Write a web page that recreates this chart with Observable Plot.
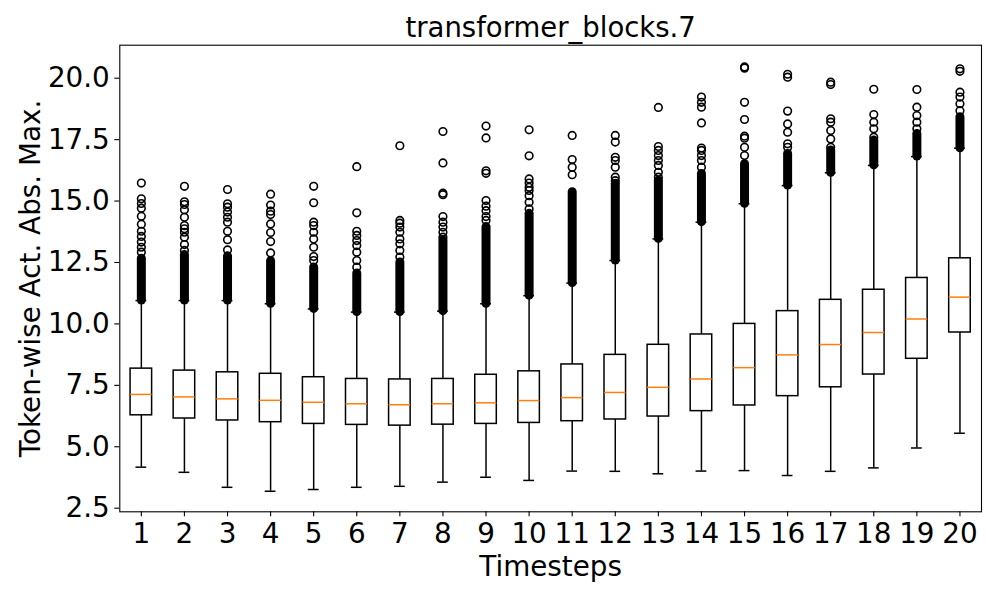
<!DOCTYPE html>
<html><head><meta charset="utf-8">
<script src="https://cdn.jsdelivr.net/npm/d3@7"></script>
<script src="https://cdn.jsdelivr.net/npm/@observablehq/plot@0.6"></script>
<style>body{margin:0;background:#fff}</style>
</head><body><div id="chart"></div>
<script>
const titleText = "transformer_blocks.7";
const xLabel = "Timesteps";
const yLabel = "Token-wise Act. Abs. Max.";
const steps = [1,2,3,4,5,6,7,8,9,10,11,12,13,14,15,16,17,18,19,20];
const yTicks = [2.5, 5.0, 7.5, 10.0, 12.5, 15.0, 17.5, 20.0];
const q1  = [6.28,6.15,6.07,6.00,5.93,5.89,5.86,5.90,5.93,5.97,6.04,6.11,6.23,6.45,6.68,7.06,7.42,7.94,8.58,9.65];
const med = [7.13,7.03,6.95,6.89,6.81,6.75,6.71,6.75,6.79,6.88,7.00,7.21,7.42,7.76,8.22,8.74,9.16,9.65,10.20,11.09];
const q3  = [8.18,8.10,8.03,7.97,7.83,7.76,7.74,7.76,7.93,8.07,8.35,8.74,9.15,9.57,10.00,10.52,10.98,11.39,11.87,12.67];
const whiskLo = [4.17,3.96,3.35,3.19,3.26,3.35,3.39,3.56,3.76,3.63,4.01,4.00,3.90,4.01,4.03,3.83,4.00,4.14,4.95,5.55];
const whiskHi = [10.95,10.95,10.95,10.82,10.61,10.48,10.48,10.52,10.82,11.15,11.66,12.58,13.46,14.14,14.89,15.63,16.15,16.45,16.81,17.15];
const denseTop = [12.65,12.80,12.75,12.55,12.30,12.05,12.50,13.40,13.94,14.48,15.36,15.70,15.83,16.10,16.50,16.92,17.06,17.46,17.73,18.41];
const outliers = [
  [15.73,15.09,14.90,14.71,14.38,14.06,13.77,13.56,13.33,13.12,12.92],
  [15.60,14.97,14.86,14.65,14.34,14.00,13.87,13.73,13.53,13.23,12.99],
  [15.47,14.89,14.75,14.55,14.34,14.14,13.77,13.43,13.01],
  [15.28,14.84,14.59,14.45,14.07,13.72,13.35,12.89],
  [15.60,14.93,14.14,14.00,13.73,13.46,13.12,12.74,12.58],
  [16.40,14.52,13.77,13.60,13.39,13.19,12.92,12.58,12.31],
  [17.25,14.21,14.10,13.94,13.73,13.46,13.26,12.99,12.72],
  [17.83,16.55,15.32,15.26,14.37,14.14,13.94,13.73,13.53],
  [18.05,17.57,16.23,16.13,15.02,14.79,14.61,14.37,14.21],
  [17.90,16.84,15.90,15.73,15.56,15.43,15.22,14.95,14.68],
  [17.67,16.69,16.38,16.07],
  [17.67,17.40,16.78,16.65,16.38,15.97,15.83],
  [18.81,17.22,17.06,16.85,16.65,16.45,16.17,15.97],
  [19.23,19.02,18.82,18.18,17.16,17.06,16.85,16.65,16.38],
  [20.46,20.41,19.02,18.32,17.64,17.56,17.19,16.85],
  [20.16,20.04,18.66,18.14,17.80,17.33,17.19],
  [19.84,19.74,18.35,18.21,17.87,17.53,17.19],
  [19.55,18.52,18.21,17.94,17.60],
  [19.54,18.82,18.48,18.21,17.94],
  [20.38,20.28,19.43,19.23,18.96,18.68]
];

const boxes = steps.map((s, i) => ({
  s, q1: q1[i], med: med[i], q3: q3[i], lo: whiskLo[i], hi: whiskHi[i], top: denseTop[i]
}));
const fliers = steps.flatMap((s, i) => outliers[i].map(v => ({s, v})));

const boxHalf = 0.25, capHalf = 0.125;
const lw = 1.5;
const font = "DejaVu Sans, sans-serif";

const chart = Plot.plot({
  width: 996, height: 598,
  marginLeft: 119.3, marginRight: 15, marginTop: 44.7, marginBottom: 86.7,
  style: {fontFamily: font, fontSize: "27.8px", color: "black", background: "white", overflow: "visible"},
  x: {domain: [0.5, 20.5], label: null},
  y: {domain: [2.353, 21.343], label: null},
  marks: [
    Plot.axisX(steps, {tickSize: 5, tickPadding: 6, tickFormat: d => String(d), label: null, fontSize: 27.8, stroke: "black", strokeWidth: 1.1}),
    Plot.axisY(yTicks, {tickSize: 5, tickPadding: 5, tickFormat: d => d.toFixed(1), label: null, fontSize: 27.8, stroke: "black", strokeWidth: 1.1}),
    // whiskers
    Plot.ruleX(boxes, {x: "s", y1: "q3", y2: "hi", stroke: "black", strokeWidth: lw}),
    Plot.ruleX(boxes, {x: "s", y1: "lo", y2: "q1", stroke: "black", strokeWidth: lw}),
    // caps
    Plot.ruleY(boxes, {y: "lo", x1: d => d.s - capHalf, x2: d => d.s + capHalf, stroke: "black", strokeWidth: lw}),
    Plot.ruleY(boxes, {y: "hi", x1: d => d.s - capHalf, x2: d => d.s + capHalf, stroke: "black", strokeWidth: lw}),
    // boxes
    Plot.rect(boxes, {x1: d => d.s - boxHalf, x2: d => d.s + boxHalf, y1: "q1", y2: "q3", fill: "none", stroke: "black", strokeWidth: lw}),
    // medians
    Plot.ruleY(boxes, {y: "med", x1: d => d.s - boxHalf, x2: d => d.s + boxHalf, stroke: "#ff7f0e", strokeWidth: lw}),
    // dense flier bands
    Plot.ruleX(boxes, {x: "s", y1: "hi", y2: "top", stroke: "black", strokeWidth: 9, strokeLinecap: "round"}),
    // sparse fliers
    Plot.dot(fliers, {x: "s", y: "v", r: 3.8, fill: "none", stroke: "black", strokeWidth: 1.6}),
    Plot.frame({stroke: "black", strokeWidth: 1.1}),
    // title and axis labels
    Plot.text([titleText], {text: d => d, frameAnchor: "top", dy: -8, lineAnchor: "bottom", fontSize: 27.5, fill: "black"}),
    Plot.text([xLabel], {text: d => d, frameAnchor: "bottom", dy: 64.5, lineAnchor: "bottom", fontSize: 27.8, fill: "black"}),
    Plot.text([yLabel], {text: d => d, frameAnchor: "left", textAnchor: "middle", dx: -89, rotate: -90, lineAnchor: "middle", fontSize: 27.8, fill: "black"})
  ]
});
document.getElementById("chart").appendChild(chart);
</script>
</body></html>
